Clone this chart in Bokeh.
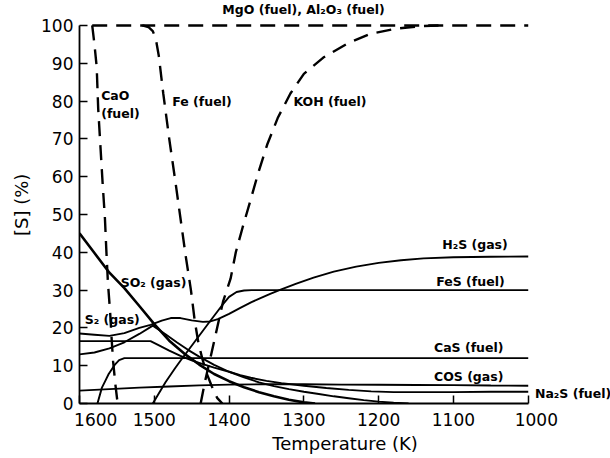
from bokeh.plotting import figure
from bokeh.models import Range1d, FixedTicker, Label
from bokeh.embed import file_html
from bokeh.resources import INLINE

# Sulfur distribution [S] (%) versus temperature (K)
# --- fuel-bound sulfur acceptors (dashed) ---
mgo_t = [1583, 1000]
mgo_s = [100, 100]

cao_t = [1583, 1580, 1577, 1575, 1572, 1569, 1566, 1564, 1562, 1559, 1557, 1555, 1552, 1549]
cao_s = [100, 95, 89, 78, 68, 58, 49, 40, 32, 24, 17, 11, 5, 0]

fe_t = [1516, 1508, 1502, 1498, 1494, 1488, 1480, 1472, 1465, 1458, 1451, 1446, 1441,
        1436, 1430, 1423, 1416, 1409]
fe_s = [100, 99.6, 98.5, 96.5, 92, 82, 70, 59, 49, 39, 30, 22, 16, 12, 8, 4.5, 1.5, 0]

koh_t = [1438, 1432, 1425, 1416, 1408, 1398, 1391, 1382, 1371, 1361, 1349, 1335, 1318,
         1300, 1274, 1242, 1211, 1175, 1144, 1120]
koh_s = [0, 6, 12, 20, 27, 33, 40, 46.5, 54, 61, 68.5, 75.5, 82, 87.2, 91.5, 95.2,
         97.8, 99.2, 99.8, 100]

# --- sulfur species (solid) ---
so2_t = [1600, 1580, 1560, 1540, 1520, 1500, 1480, 1460, 1440, 1420, 1400, 1380, 1360,
         1340, 1320, 1300, 1285]
so2_s = [45, 39.8, 34.6, 30.5, 25.8, 21.0, 16.6, 13.2, 10.3, 7.8, 5.9, 4.3, 3.0, 1.9,
         1.0, 0.3, 0]

h2s_t = [1600, 1580, 1560, 1540, 1520, 1505, 1490, 1478, 1465, 1450, 1435, 1425, 1415,
         1400, 1385, 1370, 1358, 1345, 1331, 1310, 1287, 1260, 1230, 1200, 1170, 1140,
         1100, 1050, 1000]
h2s_s = [18.5, 18.2, 17.9, 18.6, 20.0, 20.8, 21.9, 22.6, 22.6, 22.0, 21.6, 21.7, 22.3,
         23.7, 25.3, 26.8, 27.9, 29.0, 30.1, 31.7, 33.3, 34.9, 36.2, 37.2, 37.9, 38.4,
         38.7, 38.8, 38.9]

s2_t = [1600, 1580, 1560, 1540, 1520, 1502, 1485, 1470, 1455, 1440, 1420, 1400, 1380,
        1360, 1340, 1320, 1300, 1280, 1260, 1240, 1220, 1200, 1180, 1160]
s2_s = [13.0, 13.5, 14.6, 16.2, 18.4, 20.6, 18.3, 16.2, 14.2, 12.4, 10.2, 8.4, 6.9,
        5.6, 4.6, 3.8, 3.1, 2.5, 1.9, 1.4, 0.9, 0.5, 0.2, 0]

na2s_t = [1600, 1505, 1495, 1480, 1465, 1450, 1435, 1420, 1400, 1385, 1371, 1350, 1330,
          1300, 1270, 1240, 1210, 1180, 1150, 1100, 1050, 1000]
na2s_s = [16.5, 16.5, 15.5, 14.0, 12.6, 11.4, 10.4, 9.5, 8.4, 7.5, 6.8, 6.0, 5.4, 4.7,
          4.1, 3.6, 3.2, 3.0, 3.0, 3.0, 3.1, 3.1]

fes_t = [1502, 1485, 1472, 1465, 1445, 1425, 1410, 1400, 1390, 1380, 1370, 1000]
fes_s = [0, 5.6, 9.4, 11.3, 16.6, 21.9, 25.8, 28.2, 29.5, 29.9, 30, 30]

cas_t = [1576, 1570, 1565, 1561, 1553, 1547, 1540, 1000]
cas_s = [0, 4.2, 6.2, 7.8, 10.2, 11.5, 12, 12]

cos_t = [1600, 1560, 1520, 1480, 1440, 1400, 1350, 1300, 1250, 1200, 1150, 1100, 1050, 1000]
cos_s = [3.4, 3.8, 4.2, 4.5, 4.8, 5.0, 5.1, 5.1, 5.0, 4.95, 4.9, 4.85, 4.75, 4.7]

x_ticks = [1600, 1500, 1400, 1300, 1200, 1100, 1000]
y_ticks = [0, 10, 20, 30, 40, 50, 60, 70, 80, 90, 100]

FONT = "DejaVu Sans"
NBSP = "\u00a0"

# the frame reaches past 1000 K and above 100 % so the curve names fit inside it;
# the axis lines themselves stop at the data limits
p = figure(width=610, height=458, output_backend="svg", toolbar_location=None,
           x_range=Range1d(1600, 890), y_range=Range1d(0, 106.6),
           min_border_left=79, min_border_right=0, min_border_top=0,
           min_border_bottom=55)
p.outline_line_color = None
p.grid.visible = False

# dashed acceptor curves
for t, s in [(mgo_t, mgo_s), (cao_t, cao_s), (fe_t, fe_s), (koh_t, koh_s)]:
    p.line(t, s, line_color="black", line_width=2.4, line_dash="15 9")

# solid species curves
p.line(so2_t, so2_s, line_color="black", line_width=2.6)
for t, s in [(h2s_t, h2s_s), (s2_t, s2_s), (na2s_t, na2s_s), (fes_t, fes_s),
             (cas_t, cas_s), (cos_t, cos_s)]:
    p.line(t, s, line_color="black", line_width=1.9)

# axes
for ax in (p.xaxis[0], p.yaxis[0]):
    ax.major_tick_in = 8
    ax.major_tick_out = 0
    ax.minor_tick_line_color = None
    ax.axis_line_width = 1.8
    ax.major_tick_line_width = 1.5
    ax.major_label_text_font = FONT
    ax.major_label_text_font_size = "17px"
    ax.major_label_text_color = "black"
    ax.axis_label_text_font = FONT
    ax.axis_label_text_font_style = "normal"
    ax.axis_label_text_color = "black"

p.xaxis.ticker = FixedTicker(ticks=x_ticks)
p.yaxis.ticker = FixedTicker(ticks=y_ticks)
p.xaxis.bounds = (1000, 1600)
p.yaxis.bounds = (0, 100)
# end labels sit a little inward of their ticks
p.xaxis.major_label_overrides = {1600: NBSP * 6 + "1600", 1000: NBSP * 3 + "1000"}
p.xaxis.major_label_standoff = 6
p.yaxis.major_label_standoff = 6
p.xaxis.axis_label = "Temperature (K)"
p.yaxis.axis_label = "[S]  (%)"
p.xaxis.axis_label_text_font_size = "18px"
p.yaxis.axis_label_text_font_size = "18px"
p.xaxis.axis_label_standoff = 0
p.yaxis.axis_label_standoff = 6

# curve annotations: (text, T, S)
labels = [
    ("MgO (fuel),  Al\u2082O\u2083 (fuel)", 1409, 104.2),
    ("CaO", 1571, 81.6),
    ("(fuel)", 1571, 76.8),
    ("Fe (fuel)", 1476, 80.0),
    ("KOH (fuel)", 1314, 79.8),
    ("SO\u2082 (gas)", 1545, 32.0),
    ("S\u2082 (gas)", 1593, 22.3),
    ("H\u2082S (gas)", 1115, 42.1),
    ("FeS (fuel)", 1123, 32.3),
    ("CaS (fuel)", 1126, 14.8),
    ("COS (gas)", 1126, 7.2),
    ("Na\u2082S (fuel)", 991, 2.7),
]
for txt, t, s in labels:
    p.add_layout(Label(x=t, y=s, text=txt, text_font=FONT, text_font_size="12.5px",
                       text_font_style="bold", text_color="black", text_align="left",
                       text_baseline="middle"))

open("out.html", "w").write(file_html(p, INLINE))
